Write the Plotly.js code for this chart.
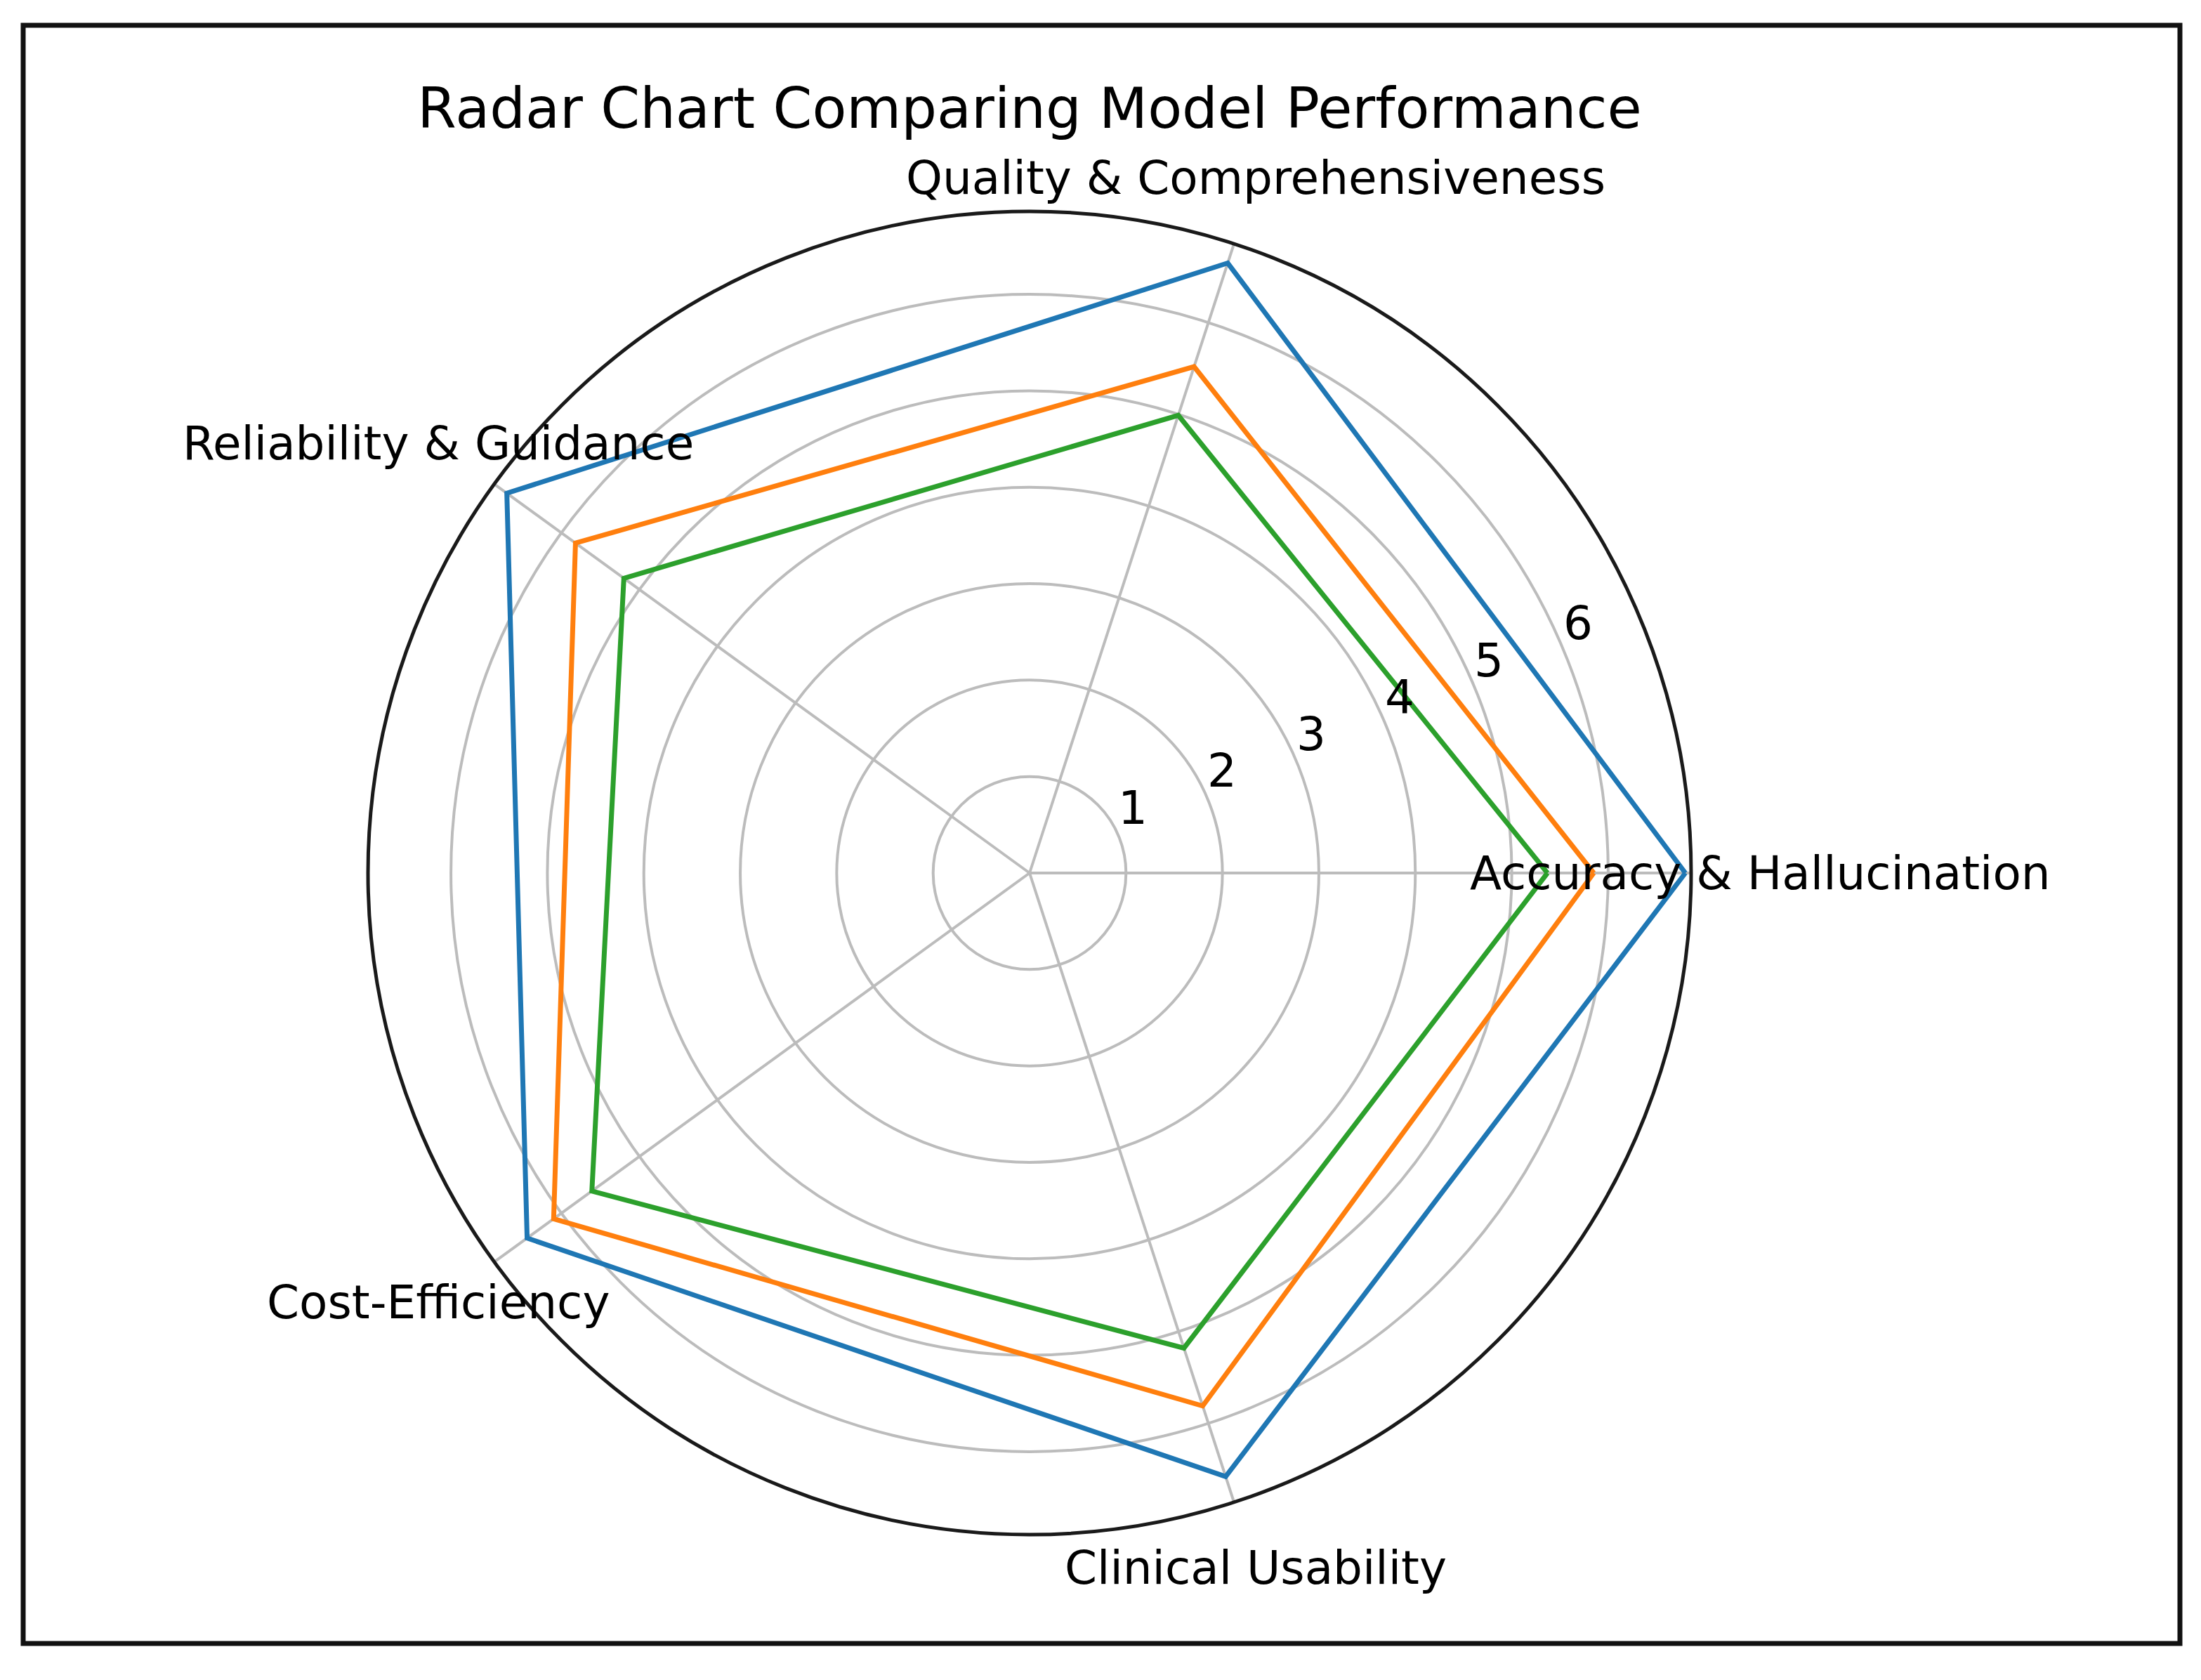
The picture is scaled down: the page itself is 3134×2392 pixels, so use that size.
<!DOCTYPE html>
<html>
<head>
<meta charset="utf-8">
<script src="https://cdn.plot.ly/plotly-3.0.1.min.js"></script>
<style>html,body{margin:0;padding:0;background:#fff;}#chart{width:3134px;height:2392px;}</style>
</head>
<body>
<div id="chart"></div>
<script>
// ---- data ----
const categories = ["Accuracy & Hallucination", "Quality & Comprehensiveness", "Reliability & Guidance", "Cost-Efficiency", "Clinical Usability"];
const modelA = [6.80, 6.65, 6.70, 6.44, 6.58];   // blue
const modelB = [5.85, 5.52, 5.82, 6.10, 5.81];   // orange
const modelC = [5.37, 4.99, 5.20, 5.61, 5.18];   // green
const seriesNames = ["Model A", "Model B", "Model C"];
const radialTicks = [1, 2, 3, 4, 5, 6];
const titleText = "Radar Chart Comparing Model Performance";

// ---- styling ----
const W = 3134, H = 2392;
const colors = ["#1f77b4", "#ff7f0e", "#2ca02c"];
const font = "DejaVu Sans, Liberation Sans, sans-serif";
const cx = 1466, cy = 1243, R = 942;   // pixel geometry of the polar area
const rMax = 6.86;
const labelAngle = 22.5;               // matplotlib default radial label position

function closeLoop(a) { return a.concat([a[0]]); }

const traces = [modelA, modelB, modelC].map((vals, i) => ({
  type: "scatterpolar",
  mode: "lines",
  r: closeLoop(vals),
  theta: closeLoop(categories),
  name: seriesNames[i],
  line: { color: colors[i], width: 7 },
  hoverinfo: "skip"
}));

// category labels centered just outside the outer circle (matplotlib style)
const catAnnotations = categories.map((c, i) => {
  const ang = i * 2 * Math.PI / categories.length;
  const d = 1.105 * R;
  return {
    xref: "paper", yref: "paper",
    x: (cx + d * Math.cos(ang)) / W,
    y: 1 - (cy - d * Math.sin(ang)) / H,
    text: c, showarrow: false,
    xanchor: "center", yanchor: "middle",
    font: { family: font, size: 66, color: "#000" }
  };
});

// radial tick labels along the 22.5° direction, upright, centered
const a = labelAngle * Math.PI / 180;
const tickAnnotations = radialTicks.map(v => {
  const d = v * R / rMax;
  return {
    xref: "paper", yref: "paper",
    x: (cx + d * Math.cos(a)) / W,
    y: 1 - (cy - d * Math.sin(a)) / H,
    xshift: 20, yshift: 40,
    text: String(v), showarrow: false,
    xanchor: "center", yanchor: "middle",
    font: { family: font, size: 66, color: "#000" }
  };
});

const layout = {
  width: W, height: H,
  margin: { l: 0, r: 0, t: 0, b: 0 },
  paper_bgcolor: "#fff",
  showlegend: false,
  title: {
    text: titleText,
    x: cx / W, xanchor: "center",
    y: 1 - 154 / H, yanchor: "middle",
    font: { family: font, size: 80, color: "#000" }
  },
  polar: {
    domain: { x: [(cx - R) / W, (cx + R) / W], y: [1 - (cy + R) / H, 1 - (cy - R) / H] },
    bgcolor: "#fff",
    radialaxis: {
      range: [0, rMax],
      tickvals: radialTicks,
      angle: labelAngle,
      showticklabels: false,
      showline: false,
      ticks: "",
      gridcolor: "#bcbcbc",
      gridwidth: 4
    },
    angularaxis: {
      type: "category",
      categoryarray: categories,
      rotation: 0,
      direction: "counterclockwise",
      showticklabels: false,
      ticks: "",
      showline: true,
      linecolor: "#1a1a1a",
      linewidth: 5,
      gridcolor: "#bcbcbc",
      gridwidth: 4
    }
  },
  annotations: catAnnotations.concat(tickAnnotations),
  shapes: [{
    type: "rect", xref: "paper", yref: "paper",
    x0: 33 / W, x1: 3104 / W, y0: 1 - 2340 / H, y1: 1 - 36 / H,
    line: { color: "#111", width: 7 }, fillcolor: "rgba(0,0,0,0)"
  }]
};

Plotly.newPlot("chart", traces, layout, { displayModeBar: false, staticPlot: true });
</script>
</body>
</html>
